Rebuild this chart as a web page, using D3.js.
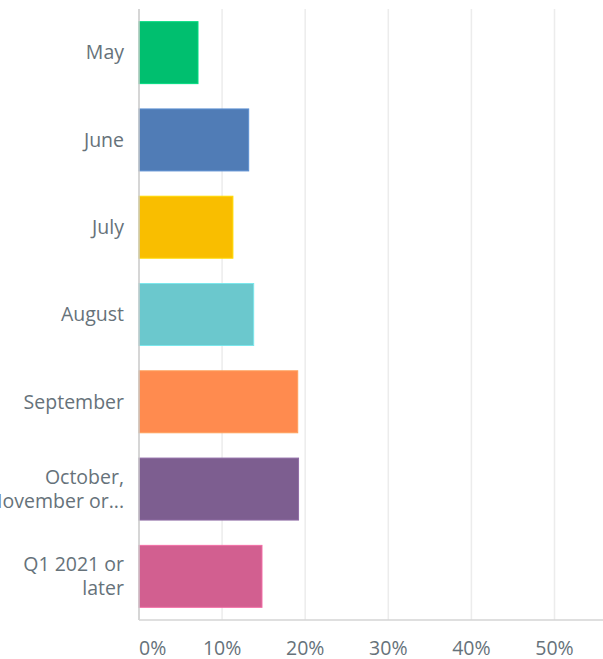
<!DOCTYPE html>
<html>
<head>
<meta charset="utf-8">
<script src="https://cdn.jsdelivr.net/npm/d3@7"></script>
<style>
  body { margin: 0; background: #fff; }
  svg { display: block; }
</style>
</head>
<body>
<div id="chart"></div>
<script>
// answer options, one line per entry of the label
let categories = ["May", "June", "July", "August", "September", "October,\nNovember or...", "Q1 2021 or\nlater"]
let values = [0.071, 0.132, 0.113, 0.138, 0.191, 0.192, 0.148]
let colors = ["#00bf6f", "#507cb6", "#f9be00", "#6bc8cd", "#ff8b4f", "#7d5e90", "#d25f90"]
let tickValues = [0, 0.1, 0.2, 0.3, 0.4, 0.5, 0.6]

let width = 603
let height = 659

// plot area
let plotLeft = 139
let plotTop = 9
let plotBottom = 620
let step10 = 83.1

let text_size = 19.5
let text_color = "#66727a"
let font = "'Open Sans', sans-serif"

let x = d3.scaleLinear()
  .domain([0, 0.6])
  .range([plotLeft, plotLeft + 6 * step10])

let y = d3.scaleBand()
  .domain(categories)
  .range([plotTop, plotBottom])
  .paddingInner(0.29)
  .paddingOuter(0.145)

let svg = d3.select("#chart").append("svg")
  .attr("width", width)
  .attr("height", height)
  .attr("viewBox", [0, 0, width, height])

// grid lines
svg.append("g")
  .selectAll("line")
  .data(tickValues.slice(1))
  .join("line")
  .attr("x1", d => x(d)).attr("x2", d => x(d))
  .attr("y1", plotTop).attr("y2", plotBottom)
  .attr("stroke", "#ececec")
  .attr("stroke-width", 1.5)

// bars
svg.append("g")
  .selectAll("rect")
  .data(categories)
  .join("rect")
  .attr("x", x(0))
  .attr("y", d => y(d))
  .attr("width", (d, i) => x(values[i]) - x(0))
  .attr("height", y.bandwidth())
  .attr("fill", (d, i) => colors[i])
  .attr("stroke", (d, i) => d3.color(colors[i]).brighter(0.4))
  .attr("stroke-width", 1)

// axis lines
svg.append("line")
  .attr("x1", plotLeft).attr("x2", plotLeft)
  .attr("y1", plotTop).attr("y2", plotBottom)
  .attr("stroke", "#c8c8c8").attr("stroke-width", 1.5)
svg.append("line")
  .attr("x1", plotLeft).attr("x2", width)
  .attr("y1", plotBottom).attr("y2", plotBottom)
  .attr("stroke", "#d4d4d4").attr("stroke-width", 1.5)

// category labels
svg.append("g")
  .selectAll("text")
  .data(categories)
  .join("text")
  .attr("text-anchor", "end")
  .attr("font-family", font).attr("font-size", text_size).attr("font-weight", 500)
  .attr("fill", text_color)
  .each(function(d) {
    let lines = d.split("\n")
    let cy = y(d) + y.bandwidth() / 2
    let lh = 24.5
    d3.select(this).selectAll("tspan")
      .data(lines)
      .join("tspan")
      .attr("x", 124)
      .attr("y", (l, j) => cy + (j - (lines.length - 1) / 2) * lh)
      .attr("dy", "0.35em")
      .text(l => l)
  })

// tick labels
svg.append("g")
  .selectAll("text")
  .data(tickValues)
  .join("text")
  .attr("x", d => x(d))
  .attr("y", 655)
  .attr("text-anchor", d => d === 0 ? "start" : "middle")
  .attr("font-family", font).attr("font-size", text_size).attr("font-weight", 500)
  .attr("fill", text_color)
  .text(d => d3.format(".0%")(d))
</script>
</body>
</html>
